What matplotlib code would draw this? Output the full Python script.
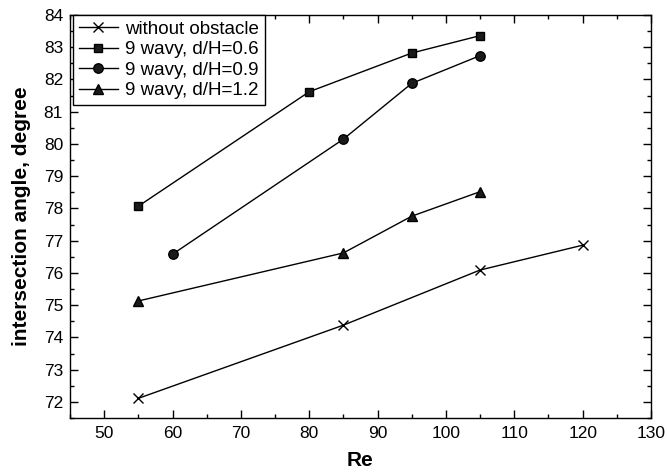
import matplotlib
matplotlib.use("Agg")
import matplotlib.pyplot as plt
from matplotlib.ticker import MultipleLocator

# Reynolds number for each series
re_plain = [55, 85, 105, 120]
re_06 = [55, 80, 95, 105]
re_09 = [60, 85, 95, 105]
re_12 = [55, 85, 95, 105]

# intersection angle, degree
ang_plain = [72.11, 74.38, 76.09, 76.86]
ang_06 = [78.07, 81.62, 82.82, 83.36]
ang_09 = [76.58, 80.15, 81.88, 82.74]
ang_12 = [75.13, 76.62, 77.76, 78.52]

labels = ["without obstacle", "9 wavy, d/H=0.6", "9 wavy, d/H=0.9", "9 wavy, d/H=1.2"]

plt.rcParams.update(
    {
        "font.family": ["Liberation Sans", "DejaVu Sans"],
        "font.size": 12.5,
        "axes.linewidth": 1.0,
        "xtick.direction": "in",
        "ytick.direction": "in",
        "xtick.top": True,
        "ytick.right": True,
    }
)

fig = plt.figure(figsize=(6.67, 4.75), dpi=100)
ax = fig.add_axes([70 / 667, 57 / 475, 581 / 667, 403 / 475])

ax.plot(re_plain, ang_plain, "-x", color="black", lw=1.0, ms=7.5, mew=1.0,
        label=labels[0])
ax.plot(re_06, ang_06, "-s", color="black", mfc="#1a1a1a", lw=1.0, ms=6.3,
        label=labels[1])
ax.plot(re_09, ang_09, "-o", color="black", mfc="#1a1a1a", lw=1.0, ms=6.8,
        label=labels[2])
ax.plot(re_12, ang_12, "-^", color="black", mfc="#1a1a1a", lw=1.0, ms=7.5,
        label=labels[3])

ax.set_xlim(45, 130)
ax.set_ylim(71.5, 84)
ax.xaxis.set_major_locator(MultipleLocator(10))
ax.xaxis.set_minor_locator(MultipleLocator(5))
ax.yaxis.set_major_locator(MultipleLocator(1))
ax.yaxis.set_minor_locator(MultipleLocator(0.5))
ax.tick_params(which="major", length=5.8, width=1.0, labelsize=12.5)
ax.tick_params(which="minor", length=2.9, width=1.0)
ax.tick_params(axis="x", which="both", top=True, pad=6)
ax.tick_params(axis="y", which="both", right=True, pad=5)

ax.set_xlabel("Re", fontsize=15, fontweight="bold", labelpad=7)
ax.set_ylabel("intersection angle, degree", fontsize=15, fontweight="bold",
              labelpad=9)

leg = ax.legend(
    loc="upper left",
    bbox_to_anchor=(0.005, 1.0),
    borderaxespad=0.0,
    fontsize=13.5,
    handlelength=2.1,
    handletextpad=0.4,
    labelspacing=0.18,
    borderpad=0.3,
    fancybox=False,
    framealpha=1,
    edgecolor="black",
)
leg.get_frame().set_linewidth(1.0)

fig.savefig("out.png", dpi=100)
